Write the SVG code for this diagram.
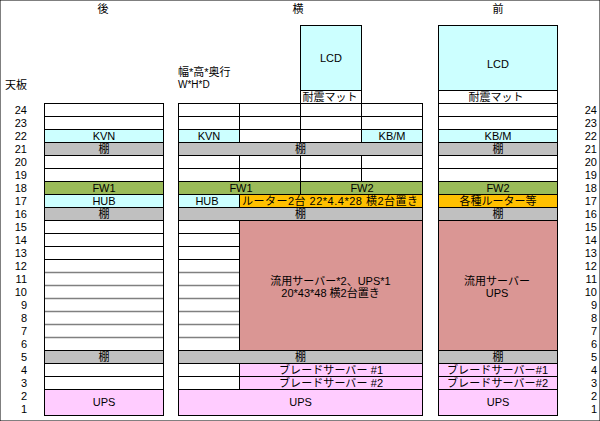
<svg xmlns="http://www.w3.org/2000/svg" width="600" height="421" viewBox="0 0 600 421">
<style>
rect{stroke:#000;stroke-width:1}
.w{fill:#fff}.cy{fill:#CCFFFF}.gr{fill:#C0C0C0}.fw{fill:#9BBB59}.or{fill:#FFC000}.sv{fill:#DA9694}.pk{fill:#FFCCFF}
text{font-family:"Liberation Sans","Noto Sans CJK JP",sans-serif;font-size:11px;fill:#000}
.m{text-anchor:middle}.e{text-anchor:end}
.bl{stroke:#000;stroke-width:1}.gl{stroke:#808080;stroke-width:1.5}
</style>
<rect width="600" height="421" fill="#fff" stroke="none"/>
<g id="titles">
<text class="m" x="103" y="13">後</text>
<text class="m" x="298" y="13">横</text>
<text class="m" x="498" y="13">前</text>
<text x="5" y="89">天板</text>
<text x="178" y="76">幅*高*奥行</text>
<text x="178" y="88" style="font-size:10px">W*H*D</text>
</g>
<g id="numbers-left">
<text class="e" x="27" y="114">24</text><text class="e" x="27" y="127">23</text><text class="e" x="27" y="140">22</text><text class="e" x="27" y="153">21</text><text class="e" x="27" y="166">20</text><text class="e" x="27" y="179">19</text><text class="e" x="27" y="192">18</text><text class="e" x="27" y="205">17</text><text class="e" x="27" y="218">16</text><text class="e" x="27" y="231">15</text><text class="e" x="27" y="244">14</text><text class="e" x="27" y="257">13</text><text class="e" x="27" y="270">12</text><text class="e" x="27" y="283">11</text><text class="e" x="27" y="296">10</text><text class="e" x="27" y="309">9</text><text class="e" x="27" y="322">8</text><text class="e" x="27" y="335">7</text><text class="e" x="27" y="348">6</text><text class="e" x="27" y="361">5</text><text class="e" x="27" y="374">4</text><text class="e" x="27" y="387">3</text><text class="e" x="27" y="400">2</text><text class="e" x="27" y="413">1</text>
</g>
<g id="numbers-right">
<text class="e" x="597" y="114">24</text><text class="e" x="597" y="127">23</text><text class="e" x="597" y="140">22</text><text class="e" x="597" y="153">21</text><text class="e" x="597" y="166">20</text><text class="e" x="597" y="179">19</text><text class="e" x="597" y="192">18</text><text class="e" x="597" y="205">17</text><text class="e" x="597" y="218">16</text><text class="e" x="597" y="231">15</text><text class="e" x="597" y="244">14</text><text class="e" x="597" y="257">13</text><text class="e" x="597" y="270">12</text><text class="e" x="597" y="283">11</text><text class="e" x="597" y="296">10</text><text class="e" x="597" y="309">9</text><text class="e" x="597" y="322">8</text><text class="e" x="597" y="335">7</text><text class="e" x="597" y="348">6</text><text class="e" x="597" y="361">5</text><text class="e" x="597" y="374">4</text><text class="e" x="597" y="387">3</text><text class="e" x="597" y="400">2</text><text class="e" x="597" y="413">1</text>
</g>

<g id="rear">
<rect class="w" x="44.5" y="103.5" width="119" height="13"/>
<rect class="w" x="44.5" y="116.5" width="119" height="13"/>
<g id="rear-kvn"><rect class="cy" x="44.5" y="129.5" width="119" height="13"/><text class="m" x="104" y="140">KVN</text></g>
<g id="rear-shelf21"><rect class="gr" x="44.5" y="142.5" width="119" height="13"/><text class="m" x="104" y="153">棚</text></g>
<rect class="w" x="44.5" y="155.5" width="119" height="13"/>
<rect class="w" x="44.5" y="168.5" width="119" height="13"/>
<g id="rear-fw1"><rect class="fw" x="44.5" y="181.5" width="119" height="13"/><text class="m" x="104" y="192">FW1</text></g>
<g id="rear-hub"><rect class="cy" x="44.5" y="194.5" width="119" height="13"/><text class="m" x="104" y="205">HUB</text></g>
<g id="rear-shelf16"><rect class="gr" x="44.5" y="207.5" width="119" height="13"/><text class="m" x="104" y="218">棚</text></g>
<rect class="w" x="44.5" y="220.5" width="119" height="130"/>
<path class="bl" d="M44.5 233.5H163.5M44.5 246.5H163.5M44.5 259.5H163.5"/>
<path class="gl" d="M45 272.5H163M45 285.5H163M45 298.5H163M45 311.5H163M45 324.5H163M45 337.5H163"/>
<g id="rear-shelf5"><rect class="gr" x="44.5" y="350.5" width="119" height="13"/><text class="m" x="104" y="361">棚</text></g>
<rect class="w" x="44.5" y="363.5" width="119" height="13"/>
<rect class="w" x="44.5" y="376.5" width="119" height="13"/>
<g id="rear-ups"><rect class="pk" x="44.5" y="389.5" width="119" height="26"/><text class="m" x="104" y="406">UPS</text></g>
</g>

<g id="side">
<g id="side-lcd"><rect class="cy" x="300.5" y="25.5" width="61" height="65"/><text class="m" x="331" y="62">LCD</text></g>
<g id="side-mat"><rect class="w" x="300.5" y="90.5" width="61" height="13"/><text class="m" x="330" y="101">耐震マット</text></g>
<rect class="w" x="178.5" y="103.5" width="61" height="13"/><rect class="w" x="239.5" y="103.5" width="61" height="13"/><rect class="w" x="300.5" y="103.5" width="61" height="13"/><rect class="w" x="361.5" y="103.5" width="61" height="13"/>
<rect class="w" x="178.5" y="116.5" width="61" height="13"/><rect class="w" x="239.5" y="116.5" width="61" height="13"/><rect class="w" x="300.5" y="116.5" width="61" height="13"/><rect class="w" x="361.5" y="116.5" width="61" height="13"/>
<g id="side-kvn"><rect class="cy" x="178.5" y="129.5" width="61" height="13"/><text class="m" x="209" y="140">KVN</text></g>
<rect class="w" x="239.5" y="129.5" width="61" height="13"/><rect class="w" x="300.5" y="129.5" width="61" height="13"/>
<g id="side-kbm"><rect class="cy" x="361.5" y="129.5" width="61" height="13"/><text class="m" x="392" y="140">KB/M</text></g>
<g id="side-shelf21"><rect class="gr" x="178.5" y="142.5" width="244" height="13"/><text class="m" x="300.5" y="153">棚</text></g>
<rect class="w" x="178.5" y="155.5" width="61" height="13"/><rect class="w" x="239.5" y="155.5" width="61" height="13"/><rect class="w" x="300.5" y="155.5" width="61" height="13"/><rect class="w" x="361.5" y="155.5" width="61" height="13"/>
<rect class="w" x="178.5" y="168.5" width="61" height="13"/><rect class="w" x="239.5" y="168.5" width="61" height="13"/><rect class="w" x="300.5" y="168.5" width="61" height="13"/><rect class="w" x="361.5" y="168.5" width="61" height="13"/>
<g id="side-fw1"><rect class="fw" x="178.5" y="181.5" width="122" height="13"/><text class="m" x="241" y="192">FW1</text></g>
<g id="side-fw2"><rect class="fw" x="300.5" y="181.5" width="122" height="13"/><text class="m" x="362" y="192">FW2</text></g>
<g id="side-hub"><rect class="cy" x="178.5" y="194.5" width="61" height="13"/><text class="m" x="207" y="205">HUB</text></g>
<g id="side-router"><rect class="or" x="239.5" y="194.5" width="183" height="13"/><text x="242" y="205" textLength="176" lengthAdjust="spacing">ルーター2台 22*4.4*28 横2台置き</text></g>
<g id="side-shelf16"><rect class="gr" x="178.5" y="207.5" width="244" height="13"/><text class="m" x="300.5" y="218">棚</text></g>
<rect class="w" x="178.5" y="220.5" width="61" height="130"/>
<path class="bl" d="M178.5 233.5H239.5M178.5 246.5H239.5M178.5 259.5H239.5"/>
<path class="gl" d="M179 272.5H239M179 285.5H239M179 298.5H239M179 311.5H239M179 324.5H239M179 337.5H239"/>
<g id="side-server"><rect class="sv" x="239.5" y="220.5" width="183" height="130"/>
<text class="m" x="330.5" y="284.5">流用サーバー*2、UPS*1</text>
<text class="m" x="330.5" y="297">20*43*48 横2台置き</text></g>
<g id="side-shelf5"><rect class="gr" x="178.5" y="350.5" width="244" height="13"/><text class="m" x="300.5" y="361">棚</text></g>
<rect class="w" x="178.5" y="363.5" width="61" height="13"/>
<g id="side-blade1"><rect class="pk" x="239.5" y="363.5" width="183" height="13"/><text class="m" x="331" y="374" textLength="104" lengthAdjust="spacing">ブレードサーバー #1</text></g>
<rect class="w" x="178.5" y="376.5" width="61" height="13"/>
<g id="side-blade2"><rect class="pk" x="239.5" y="376.5" width="183" height="13"/><text class="m" x="331" y="387" textLength="104" lengthAdjust="spacing">ブレードサーバー #2</text></g>
<g id="side-ups"><rect class="pk" x="178.5" y="389.5" width="244" height="26"/><text class="m" x="300.5" y="406">UPS</text></g>
</g>

<g id="front">
<g id="front-lcd"><rect class="cy" x="438.5" y="25.5" width="119" height="65"/><text class="m" x="498" y="68">LCD</text></g>
<g id="front-mat"><rect class="w" x="438.5" y="90.5" width="119" height="13"/><text class="m" x="496" y="101">耐震マット</text></g>
<rect class="w" x="438.5" y="103.5" width="119" height="13"/>
<rect class="w" x="438.5" y="116.5" width="119" height="13"/>
<g id="front-kbm"><rect class="cy" x="438.5" y="129.5" width="119" height="13"/><text class="m" x="498" y="140">KB/M</text></g>
<g id="front-shelf21"><rect class="gr" x="438.5" y="142.5" width="119" height="13"/><text class="m" x="498" y="153">棚</text></g>
<rect class="w" x="438.5" y="155.5" width="119" height="13"/>
<rect class="w" x="438.5" y="168.5" width="119" height="13"/>
<g id="front-fw2"><rect class="fw" x="438.5" y="181.5" width="119" height="13"/><text class="m" x="498" y="192">FW2</text></g>
<g id="front-router"><rect class="or" x="438.5" y="194.5" width="119" height="13"/><text class="m" x="498" y="205">各種ルーター等</text></g>
<g id="front-shelf16"><rect class="gr" x="438.5" y="207.5" width="119" height="13"/><text class="m" x="498" y="218">棚</text></g>
<g id="front-server"><rect class="sv" x="438.5" y="220.5" width="119" height="130"/>
<text class="m" x="497" y="284.5">流用サーバー</text>
<text class="m" x="497" y="297">UPS</text></g>
<g id="front-shelf5"><rect class="gr" x="438.5" y="350.5" width="119" height="13"/><text class="m" x="498" y="361">棚</text></g>
<g id="front-blade1"><rect class="pk" x="438.5" y="363.5" width="119" height="13"/><text class="m" x="497.5" y="374" textLength="101" lengthAdjust="spacing">ブレードサーバー#1</text></g>
<g id="front-blade2"><rect class="pk" x="438.5" y="376.5" width="119" height="13"/><text class="m" x="497.5" y="387" textLength="101" lengthAdjust="spacing">ブレードサーバー#2</text></g>
<g id="front-ups"><rect class="pk" x="438.5" y="389.5" width="119" height="26"/><text class="m" x="498" y="406">UPS</text></g>
</g>
</svg>
